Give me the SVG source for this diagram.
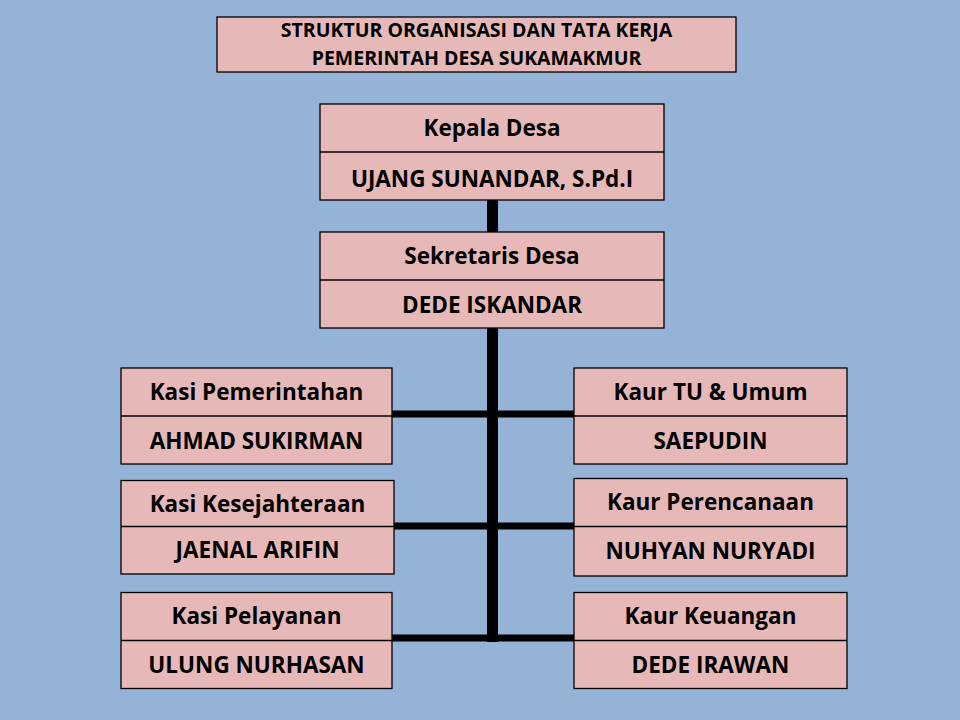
<svg xmlns="http://www.w3.org/2000/svg" width="960" height="720" viewBox="0 0 960 720">
<style>
.bg{fill:#95B3D7}
.box{fill:#E6B9B8;stroke:#000;stroke-width:1.3}
.div{stroke:#000;stroke-width:1.3}
text{font-family:"Open Sans",Lato,"Liberation Sans",sans-serif;font-weight:bold;fill:#000;text-anchor:middle}
.t{font-size:19.5px}
.l{font-size:22.5px}
.conn{fill:#000}
</style>
<rect class="bg" x="0" y="0" width="960" height="720"/>
<g id="connectors">
<rect class="conn" x="487" y="200" width="11" height="32"/>
<rect class="conn" x="487" y="328" width="11" height="314"/>
<rect class="conn" x="392" y="410.5" width="182" height="7"/>
<rect class="conn" x="394" y="522.5" width="180" height="7"/>
<rect class="conn" x="392" y="634.5" width="182" height="7"/>
</g>
<g id="title">
<rect class="box" x="217" y="17" width="519" height="55"/>
<text class="t" x="476.5" y="37">STRUKTUR ORGANISASI DAN TATA KERJA</text>
<text class="t" x="476.5" y="65">PEMERINTAH DESA SUKAMAKMUR</text>
</g>
<g id="kepala">
<rect class="box" x="320" y="104" width="344" height="96"/>
<line class="div" x1="320" y1="152" x2="664" y2="152"/>
<text class="l" x="492" y="136">Kepala Desa</text>
<text class="l" x="492" y="187">UJANG SUNANDAR, S.Pd.I</text>
</g>
<g id="sekretaris">
<rect class="box" x="320" y="232" width="344" height="96"/>
<line class="div" x1="320" y1="280" x2="664" y2="280"/>
<text class="l" x="492" y="264">Sekretaris Desa</text>
<text class="l" x="492" y="313">DEDE ISKANDAR</text>
</g>
<g id="kasi-pemerintahan">
<rect class="box" x="121" y="368" width="271" height="96"/>
<line class="div" x1="121" y1="416" x2="392" y2="416"/>
<text class="l" x="256.5" y="400">Kasi Pemerintahan</text>
<text class="l" x="256.5" y="449">AHMAD SUKIRMAN</text>
</g>
<g id="kaur-tu">
<rect class="box" x="574" y="368" width="273" height="96"/>
<line class="div" x1="574" y1="416" x2="847" y2="416"/>
<text class="l" x="710.5" y="400">Kaur TU &amp; Umum</text>
<text class="l" x="710.5" y="449">SAEPUDIN</text>
</g>
<g id="kasi-kesejahteraan">
<rect class="box" x="121" y="480.5" width="273" height="93.5"/>
<line class="div" x1="121" y1="526.5" x2="394" y2="526.5"/>
<text class="l" x="257.5" y="512">Kasi Kesejahteraan</text>
<text class="l" x="257.5" y="558">JAENAL ARIFIN</text>
</g>
<g id="kaur-perencanaan">
<rect class="box" x="574" y="478.5" width="273" height="97.5"/>
<line class="div" x1="574" y1="526.5" x2="847" y2="526.5"/>
<text class="l" x="710.5" y="510">Kaur Perencanaan</text>
<text class="l" x="710.5" y="559">NUHYAN NURYADI</text>
</g>
<g id="kasi-pelayanan">
<rect class="box" x="121" y="592.5" width="271" height="96"/>
<line class="div" x1="121" y1="640.5" x2="392" y2="640.5"/>
<text class="l" x="256.5" y="624">Kasi Pelayanan</text>
<text class="l" x="256.5" y="673">ULUNG NURHASAN</text>
</g>
<g id="kaur-keuangan">
<rect class="box" x="574" y="592.5" width="273" height="96"/>
<line class="div" x1="574" y1="640.5" x2="847" y2="640.5"/>
<text class="l" x="710.5" y="624">Kaur Keuangan</text>
<text class="l" x="710.5" y="673">DEDE IRAWAN</text>
</g>
</svg>
